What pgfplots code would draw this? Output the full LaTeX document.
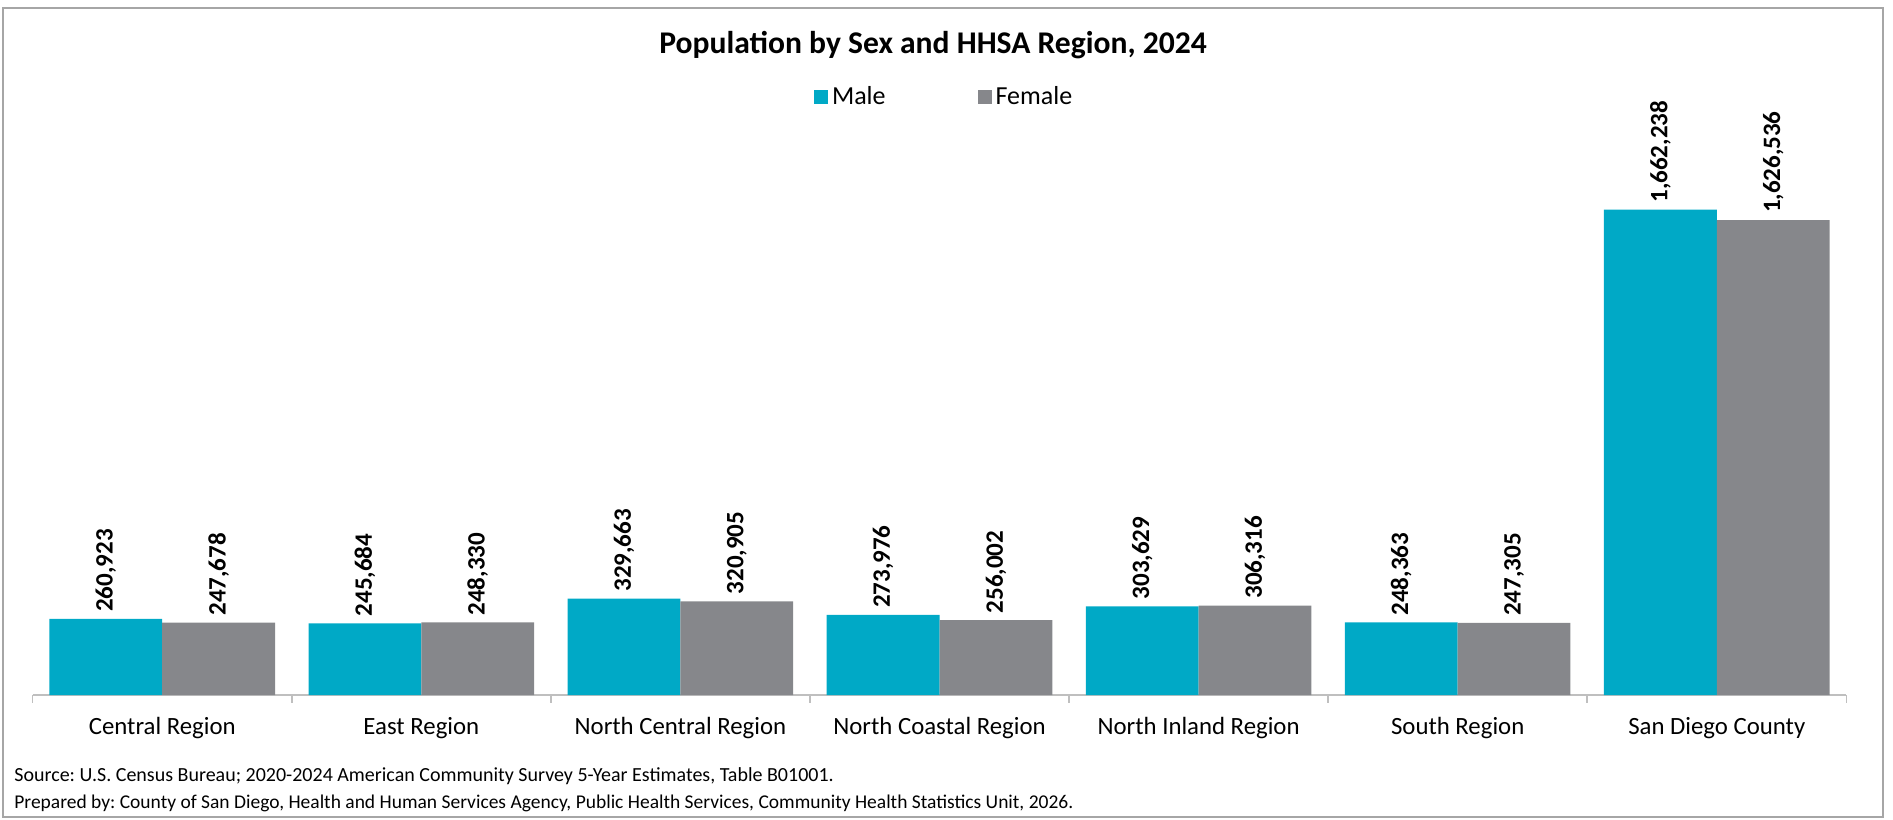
\documentclass[border=0pt]{standalone}
\usepackage{pgfplots}
\pgfplotsset{compat=1.18}
\usepackage{pgfplotstable}
\usepackage{fontspec}
\setmainfont{Carlito}
\frenchspacing
\definecolor{male}{RGB}{0,169,198}
\definecolor{female}{RGB}{134,135,139}
\definecolor{axgray}{RGB}{191,191,191}
\definecolor{framegray}{RGB}{166,166,166}

\pgfplotstableread{
x y label
0 260923 260,923
1 245684 245,684
2 329663 329,663
3 273976 273,976
4 303629 303,629
5 248363 248,363
6 1662238 1,662,238
}\maletable

\pgfplotstableread{
x y label
0 247678 247,678
1 248330 248,330
2 320905 320,905
3 256002 256,002
4 306316 306,316
5 247305 247,305
6 1626536 1,626,536
}\femaletable

\begin{document}
\begin{tikzpicture}[x=1pt,y=1pt]
\useasboundingbox (0,0) rectangle (946.5,409.5);
\draw[framegray, line width=0.75pt] (1.5,1) rectangle (941.5,405.5);
\node[font=\bfseries\fontsize{15.8}{18}\selectfont] at (466.5,387) {Population by Sex and HHSA Region, 2024};
\node[anchor=west, font=\fontsize{10}{12}\selectfont, inner sep=0pt] at (7,21.5) {Source: U.S. Census Bureau; 2020-2024 American Community Survey 5-Year Estimates, Table B01001.};
\node[anchor=west, font=\fontsize{9.75}{12}\selectfont, inner sep=0pt] at (7,8) {Prepared by: County of San Diego, Health and Human Services Agency, Public Health Services, Community Health Statistics Unit, 2026.};
\begin{axis}[
  at={(16.35pt,62pt)}, anchor=south west,
  scale only axis, width=906.8pt, height=292pt,
  xmin=-0.5, xmax=6.5, ymin=0, ymax=2000000,
  axis y line=none, axis x line=bottom,
  axis line style={-, axgray, line width=0.75pt},
  clip=false,
  ybar=0pt, bar width=56.4pt,
  xtick={0,1,2,3,4,5,6},
  xticklabels={Central Region, East Region, North Central Region, North Coastal Region, North Inland Region, South Region, San Diego County},
  major tick length=0pt,
  tick style={axgray, line width=0.75pt},
  extra x ticks={-0.5,0.5,1.5,2.5,3.5,4.5,5.5,6.5},
  extra x tick labels={},
  extra x tick style={major tick length=3.8pt, tick align=outside},
  xticklabel style={font=\fontsize{12.4}{14}\selectfont, yshift=-7.5pt},
  nodes near coords,
  point meta=explicit symbolic,
  every node near coord/.append style={rotate=90, anchor=west, font=\bfseries\fontsize{12.5}{14}\selectfont, black},
  legend columns=2,
  legend style={draw=none, at={(0.5031,1.024)}, anchor=center, font=\fontsize{13}{15}\selectfont, /tikz/every even column/.append style={column sep=44pt}},
  legend image code/.code={\fill[#1, draw=none] (0pt,-3.5pt) rectangle (7pt,3.5pt);},
]
\addplot[fill=male, draw=none] table[x=x, y=y, meta=label]{\maletable};
\addplot[fill=female, draw=none] table[x=x, y=y, meta=label]{\femaletable};
\legend{Male, Female}
\end{axis}
\end{tikzpicture}
\end{document}
